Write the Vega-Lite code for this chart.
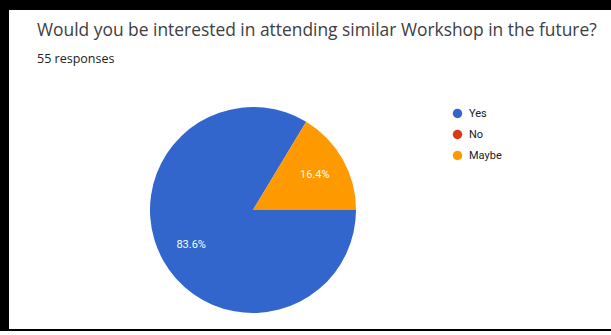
{
  "$schema": "https://vega.github.io/schema/vega-lite/v6.json",
  "width": 602,
  "height": 319,
  "autosize": "none",
  "padding": {"left": 9, "top": 10, "right": 0, "bottom": 2},
  "background": "black",
  "view": {"fill": "white", "stroke": "white", "strokeWidth": 0},
  "config": {
    "font": "Roboto"
  },
  "title": {
    "text": "Would you be interested in attending similar Workshop in the future?",
    "subtitle": "55 responses",
    "anchor": "start",
    "frame": "group",
    "orient": "top",
    "dx": 28,
    "offset": -55,
    "font": "Open Sans",
    "fontSize": 17.4,
    "fontWeight": "normal",
    "color": "#3c4043",
    "subtitleFont": "Open Sans",
    "subtitleFontSize": 12.5,
    "subtitleColor": "#202124",
    "subtitlePadding": 13
  },
  "data": {
    "values": [
      {"answer": "Yes", "count": 46, "order": 1, "label": "83.6%"},
      {"answer": "No", "count": 0, "order": 2, "label": "0%"},
      {"answer": "Maybe", "count": 9, "order": 3, "label": "16.4%"}
    ]
  },
  "layer": [
    {
      "mark": {"type": "point", "opacity": 0},
      "encoding": {
        "x": {"field": "order", "type": "quantitative", "axis": null},
        "y": {"field": "count", "type": "quantitative", "axis": null}
      }
    },
    {
      "mark": {"type": "arc", "outerRadius": 103, "xOffset": -57, "yOffset": 40.5},
      "encoding": {
        "theta": {"field": "count", "type": "quantitative", "stack": true, "scale": {"range": [1.5708, 7.854]}},
        "order": {"field": "order", "type": "quantitative"},
        "color": {
          "field": "answer",
          "type": "nominal",
          "sort": ["Yes", "No", "Maybe"],
          "scale": {"domain": ["Yes", "No", "Maybe"], "range": ["#3366cc", "#dc3912", "#ff9900"]},
          "legend": {
            "title": null,
            "orient": "none",
            "legendX": 443,
            "legendY": 98,
            "symbolType": "circle",
            "symbolSize": 90,
            "symbolStrokeWidth": 0,
            "labelFontSize": 11,
            "labelColor": "#202124",
            "labelFont": "Roboto",
            "rowPadding": 9,
            "labelOffset": 6
          }
        }
      }
    },
    {
      "transform": [{"filter": "datum.count > 0"}],
      "mark": {"type": "text", "radius": 71, "xOffset": -57, "yOffset": 40.5, "color": "white", "fontSize": 11, "font": "Roboto"},
      "encoding": {
        "theta": {"field": "count", "type": "quantitative", "stack": true, "scale": {"range": [1.5708, 7.854]}},
        "order": {"field": "order", "type": "quantitative"},
        "text": {"field": "label", "type": "nominal"}
      }
    }
  ]
}
